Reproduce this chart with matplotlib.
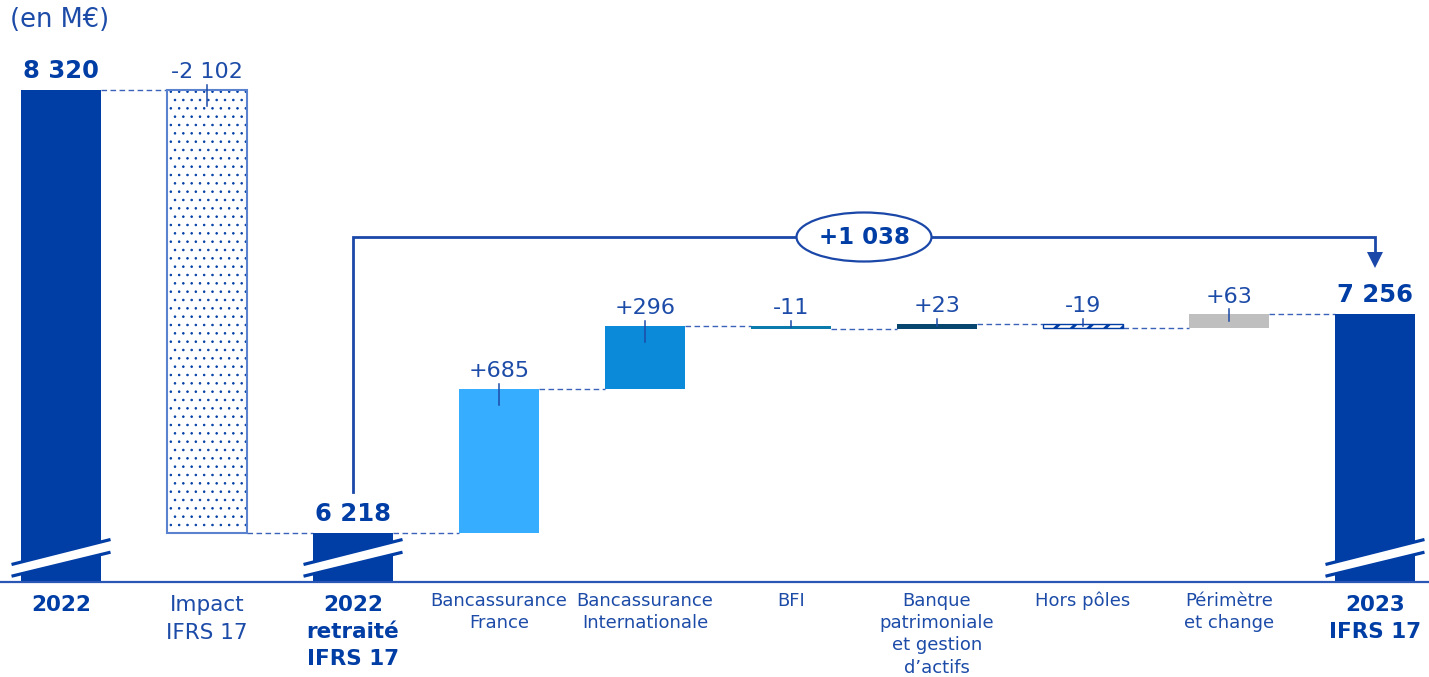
import matplotlib
matplotlib.use("Agg")
import matplotlib.pyplot as plt
import matplotlib.transforms as mtransforms
from matplotlib.patches import Ellipse, Polygon

# ---------------- data ----------------
categories = ["2022", "Impact\nIFRS 17", "2022\nretraité\nIFRS 17",
              "Bancassurance\nFrance", "Bancassurance\nInternationale", "BFI",
              "Banque\npatrimoniale\net gestion\nd’actifs", "Hors pôles",
              "Périmètre\net change", "2023\nIFRS 17"]
kinds = ["total", "delta", "total", "delta", "delta", "delta", "delta",
         "delta", "delta", "total"]
values = [8320, -2102, 6218, 685, 296, -11, 23, -19, 63, 7256]
value_labels = ["8 320", "-2 102", "6 218", "+685", "+296", "-11", "+23",
                "-19", "+63", "7 256"]
bridge_label = "+1 038"
unit_label = "(en M€)"

# ---------------- style ----------------
plt.rcParams["font.family"] = ["DejaVu Sans"]
plt.rcParams["hatch.linewidth"] = 0.6
NAVY = "#003DA5"
TXT = "#1C4BA8"
bar_colors = [NAVY, "white", NAVY, "#36ADFF", "#0A8AD8", "#0A7BAA",
              "#07466F", "white", "#BFBFBF", NAVY]

W_PX, H_PX = 1429, 677
fig = plt.figure(figsize=(W_PX / 100, H_PX / 100), dpi=100)
ax_h_px = 582
ax = fig.add_axes([0, 1 - ax_h_px / H_PX, 1, ax_h_px / H_PX])
ymin, ymax = 5986, 8746
ax.set_ylim(ymin, ymax)
ax.set_xlim(-0.418, 9.37)
for s in ["top", "left", "right"]:
    ax.spines[s].set_visible(False)
ax.spines["bottom"].set_color("#2A56B5")
ax.spines["bottom"].set_linewidth(1.6)
ax.set_xticks([])
ax.set_yticks([])

ppu = ax_h_px / (ymax - ymin)  # pixels per unit
px = lambda p: p / ppu          # pixel -> data units (y)
blend = mtransforms.blended_transform_factory(ax.transData, ax.transAxes)

bw = 0.55
x = list(range(len(values)))

# compute bar extents
starts, ends = [], []
running = 0
for k, v in zip(kinds, values):
    if k == "total":
        starts.append(ymin)
        ends.append(v)
        running = v
    else:
        starts.append(running)
        running = running + v
        ends.append(running)

# bars
for i in x:
    lo, hi = min(starts[i], ends[i]), max(starts[i], ends[i])
    if i == 1:
        ax.bar(i, hi - lo, bottom=lo, width=bw, facecolor="white",
               edgecolor=NAVY, hatch="..", linewidth=0, zorder=2)
        ax.bar(i, hi - lo, bottom=lo, width=bw, facecolor="none",
               edgecolor="#5B82CF", linewidth=1.5, zorder=2.1)
    elif i == 7:
        with plt.rc_context({"hatch.linewidth": 2.2}):
            ax.bar(i, hi - lo, bottom=lo, width=bw, facecolor="white",
                   edgecolor=NAVY, hatch="//", linewidth=1.0, zorder=2)
    else:
        ax.bar(i, hi - lo, bottom=lo, width=bw, color=bar_colors[i],
               linewidth=0, zorder=2)

# connectors
for i in range(len(values) - 1):
    lvl = ends[i]
    ax.plot([i + bw / 2, i + 1 - bw / 2], [lvl, lvl], color="#3A62B8",
            lw=1.0, ls=(0, (4, 2.5)), zorder=1)

# value labels + ticks
for i in x:
    top = max(starts[i], ends[i])
    if kinds[i] == "total":
        ax.annotate(value_labels[i], (i, top), xytext=(0, 8.5),
                    textcoords="offset points", ha="center", va="baseline",
                    fontsize=17.5, fontweight="bold", color=NAVY)
    else:
        ax.annotate(value_labels[i], (i, top), xytext=(0, 8.5),
                    textcoords="offset points", ha="center", va="baseline",
                    fontsize=16, color=TXT)
        hgt = abs(ends[i] - starts[i]) * ppu
        down = min(16, max(hgt * 0.5, 0))
        ax.plot([i, i], [top + px(5), top - px(down)], color=TXT, lw=1.1,
                zorder=3)

# break marks on totals
bx = 0.339
for i in x:
    if kinds[i] != "total":
        continue
    yt = ((17.5) / ax_h_px, (42.5) / ax_h_px)
    yb = ((5.8) / ax_h_px, (29.8) / ax_h_px)
    poly = Polygon([(i - bx, yb[0]), (i + bx, yb[1]), (i + bx, yt[1]),
                    (i - bx, yt[0])], closed=True, facecolor="white",
                   edgecolor="none", transform=blend, zorder=3)
    ax.add_patch(poly)
    for yy in (yt, yb):
        ax.plot([i - bx, i + bx], yy, color=NAVY, lw=2.3, transform=blend,
                zorder=4, solid_capstyle="butt")

# bridge bracket
y_br = (ax_h_px - 237) / ax_h_px
y_start = (ax_h_px - 492) / ax_h_px
y_head_base = (ax_h_px - 252) / ax_h_px
y_tip = (ax_h_px - 268) / ax_h_px
ax.plot([2, 2, 9, 9], [y_start, y_br, y_br, y_head_base], color="#1A47A8",
        lw=2.0, transform=blend, zorder=3, solid_joinstyle="miter")
hw = 8 / 146
ax.add_patch(Polygon([(9 - hw, y_head_base), (9 + hw, y_head_base),
                      (9, y_tip)], closed=True, facecolor="#1A47A8",
                     edgecolor="none", transform=blend, zorder=4))
ax.add_patch(Ellipse((5.5, y_br), width=135 / 146, height=49 / ax_h_px,
                     facecolor="white", edgecolor="#1A47A8", lw=1.6,
                     transform=blend, zorder=5))
ax.text(5.5, y_br, bridge_label, transform=blend, ha="center", va="center",
        fontsize=16.5, fontweight="bold", color=NAVY, zorder=6)

# category labels
for i in x:
    if kinds[i] == "total":
        ax.text(i, -13 / ax_h_px, categories[i], transform=blend, ha="center",
                va="top", fontsize=15.5, fontweight="bold", color=NAVY,
                linespacing=1.45)
    elif i == 1:
        ax.text(i, -13 / ax_h_px, categories[i], transform=blend, ha="center",
                va="top", fontsize=15.5, color=TXT, linespacing=1.5)
    else:
        ax.text(i, -10 / ax_h_px, categories[i], transform=blend, ha="center",
                va="top", fontsize=13, color=TXT, linespacing=1.3)

fig.text(10 / W_PX, 1 - 20 / H_PX, unit_label, ha="left", va="center",
         fontsize=18.5, color=TXT)

fig.savefig("out.png", dpi=100)
